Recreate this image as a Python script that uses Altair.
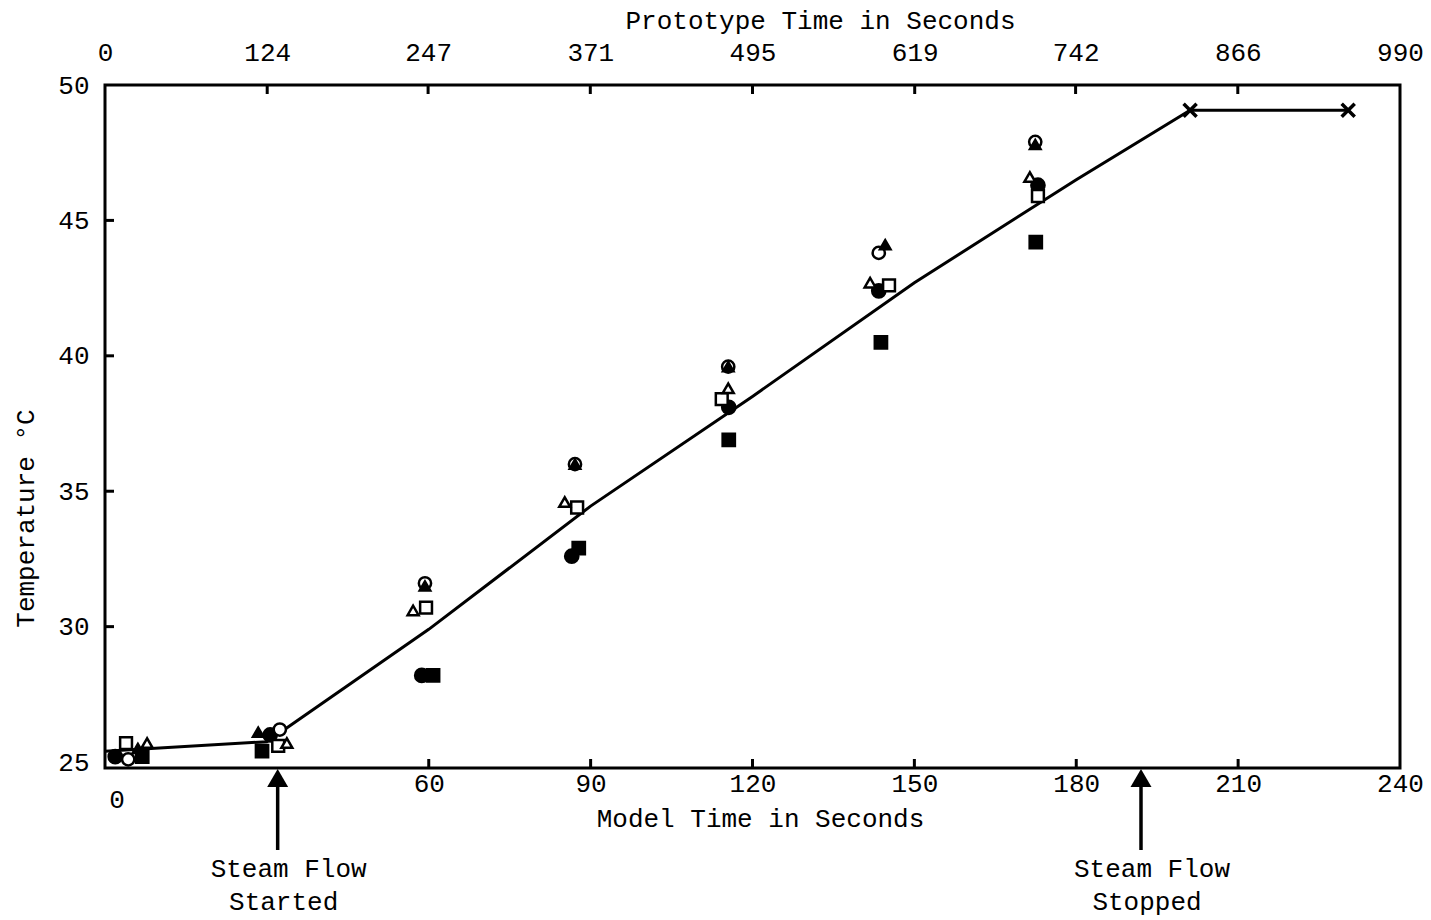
import altair as alt
import pandas as pd

FONT = "Liberation Mono"

# ---------------- data ----------------
# model time (s) and temperature (deg C) for each marker series
oc_t = [4.3, 32.4, 59.3, 87.1, 115.5, 143.4, 172.4]      # open circle
oc_T = [25.1, 26.2, 31.6, 36.0, 39.6, 43.8, 47.9]
fc_t = [1.9, 30.6, 58.7, 86.5, 115.6, 143.4, 172.9]      # filled circle
fc_T = [25.2, 26.0, 28.2, 32.6, 38.1, 42.4, 46.3]
ot_t = [7.8, 33.7, 57.1, 85.2, 115.5, 141.8, 171.4]      # open triangle
ot_T = [25.7, 25.7, 30.6, 34.6, 38.8, 42.7, 46.6]
ft_t = [6.1, 28.4, 59.3, 87.1, 115.5, 144.6, 172.4]      # filled triangle
ft_T = [25.5, 26.1, 31.5, 36.0, 39.6, 44.1, 47.8]
os_t = [3.9, 32.1, 59.5, 87.5, 114.3, 145.3, 172.9]      # open square
os_T = [25.7, 25.6, 30.7, 34.4, 38.4, 42.6, 45.9]
fs_t = [6.9, 29.1, 60.8, 87.8, 115.6, 143.8, 172.5]      # filled square
fs_T = [25.2, 25.4, 28.2, 32.9, 36.9, 40.5, 44.2]

# solid line
line_t = [0, 30, 60, 90, 120, 150, 180, 201.1, 230.4]
line_T = [25.4, 25.75, 29.9, 34.45, 38.5, 42.7, 46.5, 49.07, 49.07]
# "x" markers on the line
cross_t = [201.1, 230.4]
cross_T = [49.07, 49.07]

# axes
bottom_ticks = [60, 90, 120, 150, 180, 210]
bottom_labels = [60, 90, 120, 150, 180, 210, 240]
zero_label_t = [0]
zero_label_text = ["0"]
top_ticks = [124, 247, 371, 495, 619, 742, 866]
top_labels = [0, 124, 247, 371, 495, 619, 742, 866, 990]
left_ticks = [30, 35, 40, 45]
left_labels = [25, 30, 35, 40, 45, 50]

# events
event_t = [32, 192]
event_line1 = ["Steam Flow", "Steam Flow"]
event_line2 = ["Started", "Stopped"]

# ---------------- chart ----------------
W, H = 1295, 683

xs = alt.Scale(domain=[0, 240], nice=False, zero=False)
ys = alt.Scale(domain=[24.78, 50], nice=False, zero=False)

common_axis = dict(
    labelFont=FONT, labelFontSize=26, labelColor="black",
    titleFont=FONT, titleFontSize=26, titleFontWeight="normal", titleColor="black",
    ticks=False, tickSize=0, domain=False, grid=False,
    labelFlush=False, labelOverlap=False,
)

bottom_axis = alt.Axis(
    orient="bottom", values=bottom_labels, format="d",
    title="Model Time in Seconds", labelPadding=2,
    titleX=655, titleY=50, titleAlign="center", titleBaseline="middle",
    **common_axis,
)
left_axis = alt.Axis(
    orient="left", values=left_labels, format="d",
    title="Temperature °C", labelPadding=16,
    titleX=-80, titleY=433, titleAngle=270, titleAlign="center", titleBaseline="middle",
    **common_axis,
)
top_axis = alt.Axis(
    orient="top", values=top_labels, format="d",
    title="Prototype Time in Seconds", labelPadding=20,
    titleX=715, titleY=-65, titleAlign="center", titleBaseline="middle",
    **common_axis,
)

X = alt.X("t:Q", scale=xs, axis=bottom_axis)
Y = alt.Y("T:Q", scale=ys, axis=left_axis)

line_df = pd.DataFrame({"t": line_t, "T": line_T})
line = alt.Chart(line_df).mark_line(color="black", strokeWidth=3).encode(x=X, y=Y)

cross_df = pd.DataFrame({"t": cross_t, "T": cross_T})
crosses = alt.Chart(cross_df).mark_point(
    shape="M-1,-1L1,1M-1,1L1,-1", size=170, strokeWidth=3.5,
    color="black", filled=False, opacity=1,
).encode(x=X, y=Y)

series = [
    (fc_t, fc_T, "circle", True, 175),
    (fs_t, fs_T, "square", True, 150),
    (oc_t, oc_T, "circle", False, 150),
    (os_t, os_T, "square", False, 140),
    (ot_t, ot_T, "triangle-up", False, 120),
    (ft_t, ft_T, "triangle-up", True, 110),
]
point_layers = []
for tt, TT, shp, filled, sz in series:
    df = pd.DataFrame({"t": tt, "T": TT})
    point_layers.append(
        alt.Chart(df).mark_point(
            shape=shp, size=sz, filled=True,
            fill="black" if filled else "white",
            stroke="black", strokeWidth=2.5, opacity=1,
        ).encode(x=X, y=Y)
    )

bt_df = pd.DataFrame({"t": bottom_ticks})
bottom_tick_marks = alt.Chart(bt_df).mark_rule(color="black", strokeWidth=3).encode(
    x=X, y=alt.value(H), y2=alt.value(H - 9)
)

lt_df = pd.DataFrame({"T": left_ticks})
left_tick_marks = alt.Chart(lt_df).mark_rule(color="black", strokeWidth=3).encode(
    y=Y, x=alt.value(0), x2=alt.value(9)
)

zero_df = pd.DataFrame({"t": zero_label_t, "lab": zero_label_text})
zero_text = alt.Chart(zero_df).mark_text(
    font=FONT, fontSize=26, color="black", align="center", baseline="middle", dx=12
).encode(x=X, y=alt.value(715), text="lab:N")

ev_df = pd.DataFrame({"t": event_t, "l1": event_line1, "l2": event_line2})
shafts = alt.Chart(ev_df).mark_rule(color="black", strokeWidth=3.5).encode(
    x=X, y=alt.value(H + 12), y2=alt.value(H + 82)
)
heads = alt.Chart(ev_df).mark_point(
    shape="triangle-up", size=440, filled=True, color="black", opacity=1
).encode(x=X, y=alt.value(H + 10))
txt1 = alt.Chart(ev_df).mark_text(
    font=FONT, fontSize=26, color="black", align="center", baseline="middle", dx=11
).encode(x=X, y=alt.value(H + 101), text="l1:N")
txt2 = alt.Chart(ev_df).mark_text(
    font=FONT, fontSize=26, color="black", align="center", baseline="middle", dx=6
).encode(x=X, y=alt.value(H + 134), text="l2:N")

inner = alt.layer(
    line, crosses, *point_layers, bottom_tick_marks, left_tick_marks,
    zero_text, shafts, heads, txt1, txt2,
)

tt_df = pd.DataFrame({"p": top_ticks})
top_layer = alt.Chart(tt_df).mark_rule(color="black", strokeWidth=3).encode(
    x=alt.X("p:Q", scale=alt.Scale(domain=[0, 990], nice=False, zero=False), axis=top_axis),
    y=alt.value(0), y2=alt.value(9),
)

chart = alt.layer(inner, top_layer).resolve_scale(x="independent").properties(
    width=W, height=H,
    autosize=alt.AutoSizeParams(type="none"),
    padding={"left": 105, "top": 85, "right": 31, "bottom": 152},
    background="white",
).configure_view(stroke="black", strokeWidth=3)

chart.save("out.html", embed_options={"renderer": "svg", "actions": False})
